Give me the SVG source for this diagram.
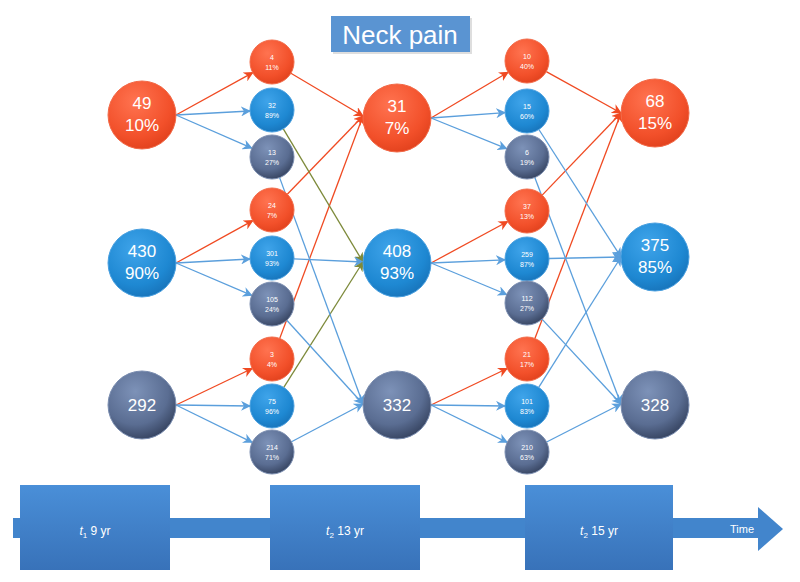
<svg xmlns="http://www.w3.org/2000/svg" width="800" height="582" viewBox="0 0 800 582">
<defs>
<radialGradient id="gR" cx="40%" cy="30%" r="75%"><stop offset="0" stop-color="#ff7350"/><stop offset="0.7" stop-color="#f2502a"/><stop offset="1" stop-color="#e0401c"/></radialGradient>
<radialGradient id="gB" cx="40%" cy="30%" r="75%"><stop offset="0" stop-color="#3fa4ea"/><stop offset="0.7" stop-color="#1e88d2"/><stop offset="1" stop-color="#1772b8"/></radialGradient>
<radialGradient id="gG" cx="40%" cy="30%" r="75%"><stop offset="0" stop-color="#7d92b8"/><stop offset="0.65" stop-color="#5a6d92"/><stop offset="1" stop-color="#33405c"/></radialGradient>
<linearGradient id="gBox" x1="0" y1="0" x2="0" y2="1"><stop offset="0" stop-color="#4a8fd8"/><stop offset="1" stop-color="#3872b9"/></linearGradient>
<marker id="aR" markerWidth="10" markerHeight="10" refX="9" refY="5" orient="auto" markerUnits="userSpaceOnUse"><path d="M0,0 L10,5 L0,10 L3,5 Z" fill="#f04a22"/></marker>
<marker id="aB" markerWidth="10" markerHeight="10" refX="9" refY="5" orient="auto" markerUnits="userSpaceOnUse"><path d="M0,0 L10,5 L0,10 L3,5 Z" fill="#5b9fdc"/></marker>
<marker id="aO" markerWidth="10" markerHeight="10" refX="9" refY="5" orient="auto" markerUnits="userSpaceOnUse"><path d="M0,0 L10,5 L0,10 L3,5 Z" fill="#7d8a3a"/></marker>
</defs>
<style>
.r{fill:url(#gR);stroke:#f26a48;stroke-width:1}
.b{fill:url(#gB);stroke:#4aa0e0;stroke-width:1}
.g{fill:url(#gG);stroke:#7a8db0;stroke-width:1}
text{font-family:"Liberation Sans","Open Sans",sans-serif;fill:#ffffff;text-anchor:middle}
.big{font-size:17px}
.sm{font-size:7px}
.lr{stroke:#f04a22;stroke-width:1.3;fill:none;marker-end:url(#aR)}
.lb{stroke:#5b9fdc;stroke-width:1.3;fill:none;marker-end:url(#aB)}
.lo{stroke:#7d8a3a;stroke-width:1.3;fill:none;marker-end:url(#aO)}
.box{fill:url(#gBox)}
</style>
<rect width="800" height="582" fill="#ffffff"/>

<g id="title">
<rect x="333" y="18" width="139" height="36" fill="#c8c8c8" opacity="0.6"/>
<rect x="331" y="16" width="139" height="36" fill="#5a94d2"/>
<text x="400" y="44" style="font-size:26px">Neck pain</text>
</g>

<g id="connectors">
<line class="lr" x1="176" y1="115" x2="252.8" y2="72.6"/>
<line class="lb" x1="176" y1="115" x2="250" y2="111"/>
<line class="lb" x1="176" y1="115" x2="251.8" y2="148.2"/>
<line class="lr" x1="176" y1="263" x2="252.8" y2="220.6"/>
<line class="lb" x1="176" y1="263" x2="250" y2="259"/>
<line class="lb" x1="176" y1="263" x2="251.8" y2="295.4"/>
<line class="lr" x1="176" y1="405" x2="252.2" y2="368.5"/>
<line class="lb" x1="176" y1="405" x2="250" y2="406"/>
<line class="lb" x1="176" y1="405" x2="252.2" y2="442.3"/>

<line class="lr" x1="290.9" y1="73.2" x2="363" y2="116"/>
<line class="lr" x1="287.3" y1="194.2" x2="363" y2="116"/>
<line class="lr" x1="279.7" y1="338.4" x2="363" y2="116"/>
<line class="lo" x1="283.3" y1="128.9" x2="363" y2="262"/>
<line class="lb" x1="294" y1="258.9" x2="363" y2="262"/>
<line class="lo" x1="283.8" y1="387.4" x2="363" y2="262"/>
<line class="lb" x1="279.6" y1="177.6" x2="363" y2="404"/>
<line class="lb" x1="286.8" y1="320.3" x2="363" y2="404"/>
<line class="lb" x1="291.5" y1="441.7" x2="363" y2="404"/>

<line class="lr" x1="431" y1="118" x2="508.1" y2="72.2"/>
<line class="lb" x1="431" y1="118" x2="505.1" y2="112.6"/>
<line class="lb" x1="431" y1="118" x2="506.6" y2="148.7"/>
<line class="lr" x1="431" y1="263" x2="507.7" y2="221.5"/>
<line class="lb" x1="431" y1="263" x2="505" y2="259.9"/>
<line class="lb" x1="431" y1="263" x2="506.7" y2="294.5"/>
<line class="lr" x1="431" y1="405" x2="507.2" y2="368.5"/>
<line class="lb" x1="431" y1="405" x2="505" y2="406"/>
<line class="lb" x1="431" y1="405" x2="507.2" y2="442.3"/>

<line class="lr" x1="546.3" y1="71.6" x2="621" y2="113"/>
<line class="lr" x1="542.2" y1="195.1" x2="621" y2="113"/>
<line class="lr" x1="534.9" y1="338.4" x2="621" y2="113"/>
<line class="lb" x1="538.9" y1="129.5" x2="621" y2="257"/>
<line class="lb" x1="549" y1="258.5" x2="621" y2="257"/>
<line class="lb" x1="538.7" y1="387.4" x2="621" y2="257"/>
<line class="lb" x1="534.8" y1="177.6" x2="621" y2="404"/>
<line class="lb" x1="542" y1="319.1" x2="621" y2="404"/>
<line class="lb" x1="546.6" y1="442" x2="621" y2="404"/>
</g>

<g id="n49"><circle class="r" cx="142" cy="115" r="34"/><text class="big" x="142" y="109">49</text><text class="big" x="142" y="131">10%</text></g>
<g id="n430"><circle class="b" cx="142" cy="263" r="34"/><text class="big" x="142" y="257">430</text><text class="big" x="142" y="279">90%</text></g>
<g id="n292"><circle class="g" cx="142" cy="405" r="34"/><text class="big" x="142" y="411">292</text></g>

<g id="n31"><circle class="r" cx="397" cy="118" r="34"/><text class="big" x="397" y="112">31</text><text class="big" x="397" y="134">7%</text></g>
<g id="n408"><circle class="b" cx="397" cy="263" r="34"/><text class="big" x="397" y="257">408</text><text class="big" x="397" y="279">93%</text></g>
<g id="n332"><circle class="g" cx="397" cy="405" r="34"/><text class="big" x="397" y="411">332</text></g>

<g id="n68"><circle class="r" cx="655" cy="113" r="34"/><text class="big" x="655" y="107">68</text><text class="big" x="655" y="129">15%</text></g>
<g id="n375"><circle class="b" cx="655" cy="257" r="34"/><text class="big" x="655" y="251">375</text><text class="big" x="655" y="273">85%</text></g>
<g id="n328"><circle class="g" cx="655" cy="405" r="34"/><text class="big" x="655" y="411">328</text></g>

<g id="s4"><circle class="r" cx="272" cy="62" r="22"/><text class="sm" x="272" y="60">4</text><text class="sm" x="272" y="70">11%</text></g>
<g id="s32"><circle class="b" cx="272" cy="110" r="22"/><text class="sm" x="272" y="108">32</text><text class="sm" x="272" y="118">89%</text></g>
<g id="s13"><circle class="g" cx="272" cy="157" r="22"/><text class="sm" x="272" y="155">13</text><text class="sm" x="272" y="165">27%</text></g>
<g id="s24"><circle class="r" cx="272" cy="210" r="22"/><text class="sm" x="272" y="208">24</text><text class="sm" x="272" y="218">7%</text></g>
<g id="s301"><circle class="b" cx="272" cy="258" r="22"/><text class="sm" x="272" y="256">301</text><text class="sm" x="272" y="266">93%</text></g>
<g id="s105"><circle class="g" cx="272" cy="304" r="22"/><text class="sm" x="272" y="302">105</text><text class="sm" x="272" y="312">24%</text></g>
<g id="s3"><circle class="r" cx="272" cy="359" r="22"/><text class="sm" x="272" y="357">3</text><text class="sm" x="272" y="367">4%</text></g>
<g id="s75"><circle class="b" cx="272" cy="406" r="22"/><text class="sm" x="272" y="404">75</text><text class="sm" x="272" y="414">96%</text></g>
<g id="s214"><circle class="g" cx="272" cy="452" r="22"/><text class="sm" x="272" y="450">214</text><text class="sm" x="272" y="460">71%</text></g>

<g id="s10"><circle class="r" cx="527" cy="61" r="22"/><text class="sm" x="527" y="59">10</text><text class="sm" x="527" y="69">40%</text></g>
<g id="s15"><circle class="b" cx="527" cy="111" r="22"/><text class="sm" x="527" y="109">15</text><text class="sm" x="527" y="119">60%</text></g>
<g id="s6"><circle class="g" cx="527" cy="157" r="22"/><text class="sm" x="527" y="155">6</text><text class="sm" x="527" y="165">19%</text></g>
<g id="s37"><circle class="r" cx="527" cy="211" r="22"/><text class="sm" x="527" y="209">37</text><text class="sm" x="527" y="219">13%</text></g>
<g id="s259"><circle class="b" cx="527" cy="259" r="22"/><text class="sm" x="527" y="257">259</text><text class="sm" x="527" y="267">87%</text></g>
<g id="s112"><circle class="g" cx="527" cy="303" r="22"/><text class="sm" x="527" y="301">112</text><text class="sm" x="527" y="311">27%</text></g>
<g id="s21"><circle class="r" cx="527" cy="359" r="22"/><text class="sm" x="527" y="357">21</text><text class="sm" x="527" y="367">17%</text></g>
<g id="s101"><circle class="b" cx="527" cy="406" r="22"/><text class="sm" x="527" y="404">101</text><text class="sm" x="527" y="414">83%</text></g>
<g id="s210"><circle class="g" cx="527" cy="452" r="22"/><text class="sm" x="527" y="450">210</text><text class="sm" x="527" y="460">63%</text></g>

<g id="timeline">
<rect x="13" y="518" width="747" height="20" fill="#4285cc"/>
<polygon points="758,507 783,529 758,551" fill="#4285cc"/>
<rect class="box" x="20" y="485" width="150" height="85"/>
<rect class="box" x="270" y="485" width="150" height="85"/>
<rect class="box" x="525" y="485" width="148" height="85"/>
<text x="95" y="535" style="font-size:12px"><tspan font-style="italic">t</tspan><tspan style="font-size:8px" dy="3">1</tspan><tspan dy="-3"> 9 yr</tspan></text>
<text x="345" y="535" style="font-size:12px"><tspan font-style="italic">t</tspan><tspan style="font-size:8px" dy="3">2</tspan><tspan dy="-3"> 13 yr</tspan></text>
<text x="599" y="535" style="font-size:12px"><tspan font-style="italic">t</tspan><tspan style="font-size:8px" dy="3">2</tspan><tspan dy="-3"> 15 yr</tspan></text>
<text x="742" y="533" style="font-size:11px">Time</text>
</g>
</svg>
